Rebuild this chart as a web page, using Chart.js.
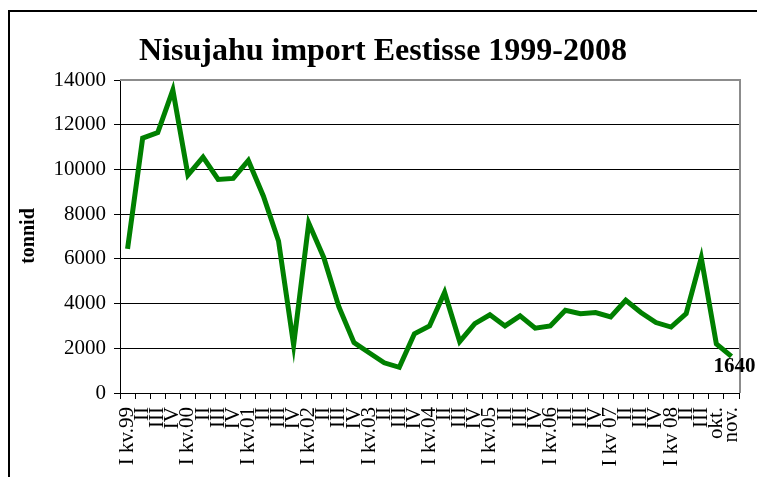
<!DOCTYPE html>
<html>
<head>
<meta charset="utf-8">
<script src="https://cdn.jsdelivr.net/npm/chart.js@4"></script>
<style>
  html, body { margin: 0; padding: 0; background: #fff; }
  #wrap { width: 757px; height: 477px; }
</style>
</head>
<body>
<div id="wrap"><canvas id="importChart" width="757" height="477"></canvas></div>
<script>
const quarters = ['I kv.99', 'II', 'III', 'IV', 'I kv.00', 'II', 'III', 'IV', 'I kv.01', 'II', 'III', 'IV',
  'I kv.02', 'II', 'III', 'IV', 'I kv.03', 'II', 'III', 'IV', 'I kv.04', 'II', 'III', 'IV',
  'I kv.05', 'II', 'III', 'IV', 'I kv.06', 'II', 'III', 'IV', 'I kv 07', 'II', 'III', 'IV',
  'I kv 08', 'II', 'III', 'okt.', 'nov.'];
const tonnes = [6450, 11400, 11650, 13550, 9750, 10550, 9550, 9600, 10400, 8800, 6800, 2150,
  7600, 6050, 3850, 2250, 1800, 1350, 1150, 2650, 3000, 4500, 2300, 3100,
  3500, 3000, 3450, 2900, 3000, 3700, 3550, 3600, 3400, 4150, 3600, 3150,
  2950, 3550, 6050, 2200, 1640];
const yTicks = [0, 2000, 4000, 6000, 8000, 10000, 12000, 14000];
const lastLabel = '1640';
const titleText = 'Nisujahu import Eestisse 1999-2008';

const serif = '"Liberation Serif", "Times New Roman", serif';

// frame, title, plot border, axis title and the last value label
const extras = {
  id: 'extras',
  afterDraw(chart) {
    const ctx = chart.ctx;
    const a = chart.chartArea;
    ctx.save();
    ctx.strokeStyle = '#000';
    ctx.lineWidth = 2;
    ctx.beginPath();
    ctx.moveTo(9, 477);
    ctx.lineTo(9, 11);
    ctx.lineTo(757, 11);
    ctx.stroke();

    ctx.strokeStyle = '#8c8c8c';
    ctx.beginPath();
    ctx.moveTo(a.left, a.top);
    ctx.lineTo(a.right + 1, a.top);
    ctx.lineTo(a.right + 1, a.bottom);
    ctx.stroke();

    ctx.fillStyle = '#000';
    ctx.font = 'bold 32px ' + serif;
    ctx.textAlign = 'center';
    ctx.textBaseline = 'alphabetic';
    ctx.fillText(titleText, 383, 60);

    ctx.font = 'bold 20px ' + serif;
    ctx.textBaseline = 'middle';
    ctx.translate(29, 236);
    ctx.rotate(-Math.PI / 2);
    ctx.fillText('tonnid', 0, 0);
    ctx.restore();

    const meta = chart.getDatasetMeta(0);
    const p = meta.data[meta.data.length - 1];
    ctx.save();
    ctx.fillStyle = '#000';
    ctx.font = 'bold 21px ' + serif;
    ctx.textAlign = 'left';
    ctx.textBaseline = 'alphabetic';
    ctx.fillText(lastLabel, p.x - 18, p.y + 16);
    ctx.restore();
  }
};

new Chart(document.getElementById('importChart'), {
  type: 'line',
  data: {
    labels: quarters,
    datasets: [{
      data: tonnes,
      borderColor: '#008000',
      borderWidth: 5,
      borderJoinStyle: 'miter',
      pointRadius: 0,
      tension: 0,
      fill: false
    }]
  },
  options: {
    responsive: false,
    animation: false,
    layout: { padding: { left: 10, right: 18, top: 80, bottom: 0 } },
    plugins: {
      legend: { display: false },
      tooltip: { enabled: false },
      title: { display: false }
    },
    scales: {
      x: {
        offset: true,
        grid: { offset: true, drawOnChartArea: false, drawTicks: true, tickLength: 6, color: '#000' },
        border: { color: '#000', width: 1 },
        ticks: {
          autoSkip: false,
          minRotation: 90,
          maxRotation: 90,
          padding: 8,
          color: '#000',
          font: { family: serif, size: 21 }
        },
        afterFit(scale) {
          scale.height = 84;
          scale.paddingLeft = 0;
          scale.paddingRight = 0;
        }
      },
      y: {
        min: 0,
        max: 14000,
        afterBuildTicks(scale) { scale.ticks = yTicks.map(v => ({ value: v })); },
        grid: { color: '#000', lineWidth: 1, tickLength: 6 },
        border: { color: '#000', width: 1 },
        ticks: {
          padding: 8,
          color: '#000',
          font: { family: serif, size: 21 },
          callback: v => String(v)
        },
        afterFit(scale) { scale.width = 110; }
      }
    }
  },
  plugins: [extras]
});
</script>
</body>
</html>
